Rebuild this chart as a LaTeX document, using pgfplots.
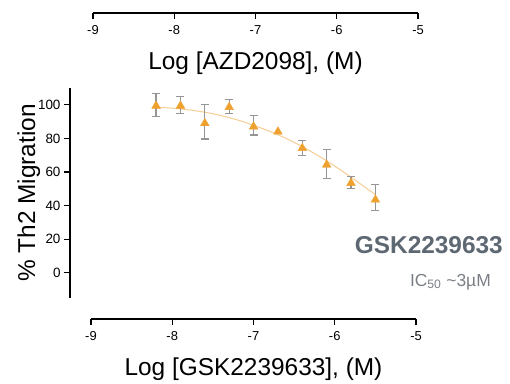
\documentclass[border=0pt]{standalone}
\usepackage{pgfplots}
\pgfplotsset{compat=1.18}
\usepackage{fontspec}
\setmainfont{Liberation Sans}
\definecolor{morange}{HTML}{EFA12F}
\definecolor{corange}{HTML}{F6CC94}
\definecolor{ebgray}{HTML}{959595}
\definecolor{lblgray}{HTML}{5E6873}
\definecolor{icgray}{HTML}{7A7F86}
\pgfplotsset{
  myx/.style={
    scale only axis, width=325bp, height=1bp,
    xmin=-9, xmax=-5, ymin=0, ymax=1,
    axis x line=bottom, axis y line=none,
    axis line style={-, line width=1.3pt, black},
    xtick={-9,-8,...,-5},
    tick align=outside, major tick length=6bp,
    every tick/.style={black, line width=1.3pt},
    xticklabel style={font=\fontsize{13}{15}\selectfont, yshift=-3bp},
    xticklabel={\pgfmathprintnumber[assume math mode=true]{\tick}},
    xlabel style={font=\fontsize{24.5}{28}\selectfont, yshift=-10bp},
  }
}
\pgfplotstableread{
x y ep em
-8.2 99.4 7.1 6.4
-7.9 99.4 5.4 4.4
-7.6 89.0 11.0 9.4
-7.3 98.6 4.4 3.6
-7.0 87.0 6.5 5.0
-6.4 74.2 4.7 4.4
-6.1 64.3 9.3 8.2
-5.8 53.4 4.0 3.0
-5.5 43.5 8.9 6.4
}\datatable
\pgfplotstableread{
x y
-6.7 84.0
}\noerrtable
\begin{document}
\begin{tikzpicture}[x=1bp,y=1bp]
\path[use as bounding box] (0,0) rectangle (510,383);
% top axis
\begin{axis}[myx, at={(93bp,370bp)}, anchor=south west,
  xlabel={Log [AZD2098], (M)}]
\end{axis}
% bottom axis
\begin{axis}[myx, at={(91bp,64bp)}, anchor=south west,
  xlabel={Log [GSK2239633], (M)}]
\end{axis}
% main axis
\begin{axis}[scale only axis, width=346bp, height=210bp,
  at={(70bp,85bp)}, anchor=south west,
  xmin=-9.26, xmax=-5, ymin=-15, ymax=110,
  axis x line=none, axis y line=left,
  axis line style={-, line width=1.3pt, black},
  ytick={0,20,...,100},
  tick align=outside, major tick length=6bp,
  every tick/.style={black, line width=1.3pt},
  yticklabel style={font=\fontsize{13.5}{15}\selectfont, xshift=0bp},
  yticklabel={\pgfmathprintnumber[assume math mode=true]{\tick}},
  ylabel={\% Th2 Migration},
  ylabel style={font=\fontsize{24.5}{28}\selectfont, yshift=-9bp},
  clip=false]
\addplot[color=corange, line width=1pt, smooth] coordinates {
(-8.2,98.5) (-8.0,98.0) (-7.8,97.0) (-7.6,95.6) (-7.4,93.6) (-7.2,91.0)
(-7.0,87.8) (-6.8,84.2) (-6.6,80.0) (-6.4,75.1) (-6.2,69.6) (-6.0,63.5)
(-5.8,56.9) (-5.6,50.0) (-5.5,46.6)};
\addplot[only marks, mark=triangle*, mark size=5bp, color=morange,
  error bars/.cd, y dir=both, y explicit,
  error bar style={ebgray, line width=1.2pt},
  error mark options={rotate=90, ebgray, line width=1.2pt, mark size=4bp}]
  table[x=x, y=y, y error plus=ep, y error minus=em] {\datatable};
\addplot[only marks, mark=triangle*, mark size=5bp, color=morange]
  table[x=x, y=y] {\noerrtable};
\end{axis}
\node[font=\fontsize{24.5}{28}\selectfont\bfseries, text=lblgray, anchor=east, inner sep=0] at (503,138) {GSK2239633};
\node[font=\fontsize{17.5}{20}\selectfont, text=icgray, anchor=east, inner sep=0] at (491,101) {IC\textsubscript{50} \char`~3\textmu M};
\end{tikzpicture}
\end{document}
